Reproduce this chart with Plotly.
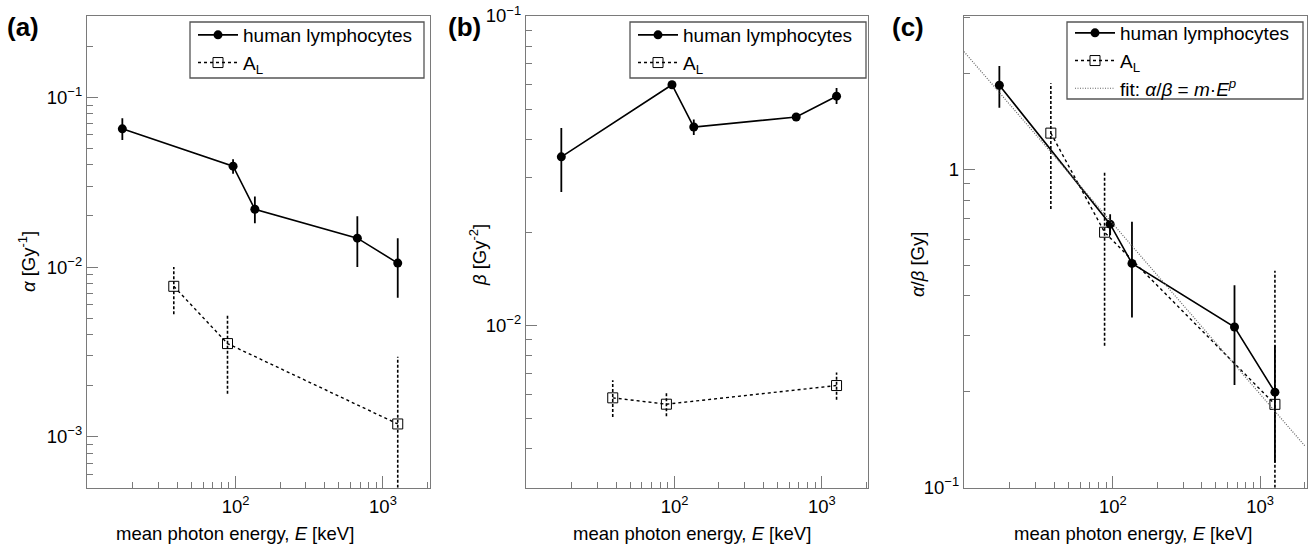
import plotly.graph_objects as go

W, H = 1310, 549

# ---------------- data ----------------
E_hl = [17, 96, 135, 670, 1260]          # keV, human lymphocytes
E_al = [38, 88, 1260]                    # keV, A_L

alpha_hl = [0.0652, 0.0393, 0.0219, 0.0148, 0.01055]
alpha_hl_hi = [0.0752, 0.0432, 0.0260, 0.0199, 0.0148]
alpha_hl_lo = [0.0561, 0.0354, 0.0181, 0.0100, 0.0066]
alpha_al = [0.0077, 0.00354, 0.00119]
alpha_al_hi = [0.0100, 0.00527, 0.00296]
alpha_al_lo = [0.00527, 0.00179, 0.0]

beta_hl = [0.0351, 0.0600, 0.0438, 0.0472, 0.0551]
beta_hl_hi = [0.0435, 0.0615, 0.0463, 0.0482, 0.0585]
beta_hl_lo = [0.0270, 0.0585, 0.0413, 0.0462, 0.0520]
beta_al = [0.00585, 0.00558, 0.00641]
beta_al_hi = [0.00667, 0.00608, 0.00706]
beta_al_lo = [0.00507, 0.00510, 0.00577]

ratio_hl = [1.835, 0.672, 0.506, 0.3195, 0.1995]
ratio_hl_hi = [2.11, 0.722, 0.684, 0.432, 0.280]
ratio_hl_lo = [1.56, 0.620, 0.342, 0.210, 0.1197]
ratio_al = [1.298, 0.634, 0.1827]
ratio_al_hi = [1.863, 0.987, 0.480]
ratio_al_lo = [0.750, 0.279, 0.0]

fit_E = [9.78, 2020]
fit_ratio = [2.34, 0.135]

# tick labels
x_tickvals = [100, 1000]
x_ticktext = ["10<sup>2</sup>", "10<sup>3</sup>"]
x_minor = [20, 30, 40, 50, 60, 70, 80, 90, 200, 300, 400, 500, 600, 700, 800, 900, 2000]

ya_tickvals = [1e-3, 1e-2, 1e-1]
ya_ticktext = ["10<sup>\u22123</sup>", "10<sup>\u22122</sup>", "10<sup>\u22121</sup>"]
ya_minor = [5e-4, 6e-4, 7e-4, 8e-4, 9e-4, 2e-3, 3e-3, 4e-3, 5e-3, 6e-3, 7e-3, 8e-3, 9e-3,
            2e-2, 3e-2, 4e-2, 5e-2, 6e-2, 7e-2, 8e-2, 9e-2, 0.2, 0.3]
yb_tickvals = [1e-2, 1e-1]
yb_ticktext = ["10<sup>\u22122</sup>", "10<sup>\u22121</sup>"]
yb_minor = [3e-3, 4e-3, 5e-3, 6e-3, 7e-3, 8e-3, 9e-3, 2e-2, 3e-2, 4e-2, 5e-2, 6e-2, 7e-2, 8e-2, 9e-2]
yc_tickvals = [0.1, 1]
yc_ticktext = ["10<sup>\u22121</sup>", "1"]
yc_minor = [0.2, 0.3, 0.4, 0.5, 0.6, 0.7, 0.8, 0.9, 2, 3]

x_range = [0.9905, 3.316]
ya_range = [-3.30, -0.521]
yb_range = [-2.523, -1.0]
yc_range = [-1.0, 0.481]

FONT = "Liberation Sans, Arial, Helvetica, sans-serif"
FS = 18.5
AXC = "#7a7a7a"


def px(x):
    return x / W


def py(y):
    return 1 - y / H


fig = go.Figure()


def add_panel(xa, ya, legend, y_hl, hi_hl, lo_hl, y_al, hi_al, lo_al, yrange):
    fig.add_trace(go.Scatter(
        x=E_hl, y=y_hl, xaxis=xa, yaxis=ya, legend=legend,
        name="human lymphocytes", mode="lines+markers",
        line=dict(color="black", width=1.6),
        marker=dict(symbol="circle", size=9, color="black"),
        error_y=dict(type="data", symmetric=False,
                     array=[h - v for h, v in zip(hi_hl, y_hl)],
                     arrayminus=[v - l for l, v in zip(lo_hl, y_hl)],
                     width=0, thickness=1.8, color="black"),
    ))
    floor = 10 ** yrange[0]
    ex, ey = [], []
    for e, lo, hi in zip(E_al, lo_al, hi_al):
        ex += [e, e, None]
        ey += [max(lo, floor), hi, None]
    fig.add_trace(go.Scatter(
        x=ex, y=ey, xaxis=xa, yaxis=ya, mode="lines", showlegend=False,
        line=dict(color="black", width=1.6, dash="3px,2px"), hoverinfo="skip",
    ))
    fig.add_trace(go.Scatter(
        x=E_al, y=y_al, xaxis=xa, yaxis=ya, legend=legend,
        name="A<sub>L</sub>", mode="lines+markers",
        line=dict(color="black", width=1.4, dash="3px,3px"),
        marker=dict(symbol="square-open", size=10, color="black", line=dict(width=1)),
    ))


add_panel("x", "y", "legend", alpha_hl, alpha_hl_hi, alpha_hl_lo,
          alpha_al, alpha_al_hi, alpha_al_lo, ya_range)
add_panel("x2", "y2", "legend2", beta_hl, beta_hl_hi, beta_hl_lo,
          beta_al, beta_al_hi, beta_al_lo, yb_range)
add_panel("x3", "y3", "legend3", ratio_hl, ratio_hl_hi, ratio_hl_lo,
          ratio_al, ratio_al_hi, ratio_al_lo, yc_range)

fig.add_trace(go.Scatter(
    x=fit_E, y=fit_ratio, xaxis="x3", yaxis="y3", legend="legend3",
    name="fit: <i>\u03b1</i>/<i>\u03b2</i> = <i>m</i>\u00b7<i>E</i><sup><i>p</i></sup>",
    mode="lines", line=dict(color="#666666", width=1.2, dash="1px,1.5px"),
))


def xaxis_cfg(domain):
    return dict(type="log", range=x_range, domain=domain, automargin=False,
                showline=True, mirror=True, linecolor=AXC, linewidth=1.4,
                ticks="inside", ticklen=12, tickwidth=1.3, tickcolor=AXC,
                tickvals=x_tickvals, ticktext=x_ticktext, ticklabelstandoff=2,
                minor=dict(ticks="inside", ticklen=6, tickwidth=1.2, tickcolor=AXC,
                           tickvals=x_minor, showgrid=False),
                showgrid=False, zeroline=False,
                tickfont=dict(family=FONT, size=FS, color="black"))


def yaxis_cfg(rng, tv, tt, minor):
    return dict(type="log", range=rng, domain=[py(487.7), py(16)], automargin=False,
                showline=True, mirror=True, linecolor=AXC, linewidth=1.4,
                ticks="inside", ticklen=11, tickwidth=1.3, tickcolor=AXC,
                tickvals=tv, ticktext=tt,
                minor=dict(ticks="inside", ticklen=6, tickwidth=1.2, tickcolor=AXC,
                           tickvals=minor, showgrid=False),
                showgrid=False, zeroline=False,
                tickfont=dict(family=FONT, size=FS, color="black"))


xa = xaxis_cfg([px(87), px(429.5)]); xa["anchor"] = "y"
xb = xaxis_cfg([px(526), px(868.3)]); xb["anchor"] = "y2"
xc = xaxis_cfg([px(964), px(1306.7)]); xc["anchor"] = "y3"
yA = yaxis_cfg(ya_range, ya_tickvals, ya_ticktext, ya_minor); yA["anchor"] = "x"
yB = yaxis_cfg(yb_range, yb_tickvals, yb_ticktext, yb_minor); yB["anchor"] = "x2"
yC = yaxis_cfg(yc_range, yc_tickvals, yc_ticktext, yc_minor); yC["anchor"] = "x3"


def legend_cfg(x_left, y_top):
    return dict(x=px(x_left), y=py(y_top), xanchor="left", yanchor="top",
                bgcolor="rgba(0,0,0,0)", borderwidth=0, itemwidth=40,
                font=dict(family=FONT, size=FS + 0.5, color="black"),
                tracegroupgap=0, traceorder="normal")


annotations = []
for txt, x in [("(a)", 23), ("(b)", 464), ("(c)", 908)]:
    annotations.append(dict(text="<b>%s</b>" % txt, x=px(x), y=py(27), xref="paper", yref="paper",
                            showarrow=False, xanchor="center", yanchor="middle",
                            font=dict(family=FONT, size=26, color="black")))
for txt, x, y in [("<i>\u03b1</i> [Gy<sup>-1</sup>]", 27, 262),
                  ("<i>\u03b2</i> [Gy<sup>-2</sup>]", 478, 255),
                  ("<i>\u03b1</i>/<i>\u03b2</i> [Gy]", 917, 264)]:
    annotations.append(dict(text=txt, x=px(x), y=py(y), xref="paper", yref="paper",
                            showarrow=False, xanchor="center", yanchor="middle", textangle=-90,
                            font=dict(family=FONT, size=FS, color="black")))
for x in [235, 692, 1133]:
    annotations.append(dict(text="mean photon energy, <i>E</i> [keV]", x=px(x), y=py(533),
                            xref="paper", yref="paper", showarrow=False,
                            xanchor="center", yanchor="middle",
                            font=dict(family=FONT, size=FS, color="black")))

shapes = []
for x0, x1, y0, y1 in [(190, 424, 22, 78), (630, 866, 22, 78), (1067, 1303, 22, 99)]:
    shapes.append(dict(type="rect", xref="paper", yref="paper",
                       x0=px(x0), x1=px(x1), y0=py(y1), y1=py(y0),
                       line=dict(color="#555555", width=1.3), fillcolor="rgba(0,0,0,0)"))

fig.update_layout(
    width=W, height=H, margin=dict(l=0, r=0, t=0, b=0, pad=0, autoexpand=False),
    paper_bgcolor="white", plot_bgcolor="white",
    xaxis=xa, xaxis2=xb, xaxis3=xc, yaxis=yA, yaxis2=yB, yaxis3=yC,
    legend=legend_cfg(193, 16), legend2=legend_cfg(633, 16), legend3=legend_cfg(1070, 14),
    annotations=annotations, shapes=shapes,
    font=dict(family=FONT, size=FS, color="black"),
)

fig.write_html("out.html", config={"displayModeBar": False},
               post_script="document.body.style.margin='0px';")
